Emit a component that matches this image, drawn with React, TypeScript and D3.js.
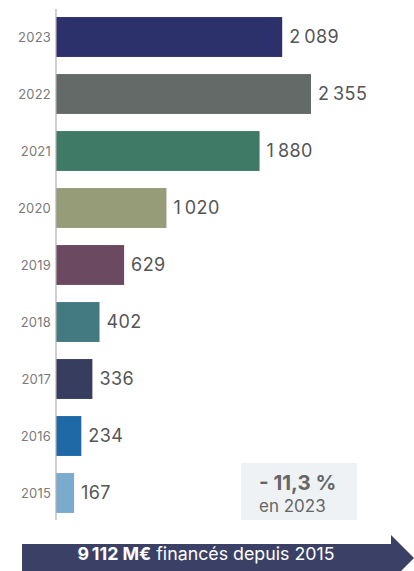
import React from "react";
import * as d3 from "d3";

const years = ["2023", "2022", "2021", "2020", "2019", "2018", "2017", "2016", "2015"];
const values = [2089, 2355, 1880, 1020, 629, 402, 336, 234, 167];
const valueLabels = ["2\u2009089", "2\u2009355", "1\u2009880", "1\u2009020", "629", "402", "336", "234", "167"];
const colors = ["#2c306b", "#646a67", "#3f7a67", "#959c77", "#6b4a61", "#437a81", "#373d5f", "#1f69a7", "#7aaacd"];
const changeLabel = "- 11,3 %";
const changeSub = "en 2023";
const totalBold = "9\u2009112 M€";
const totalRest = " financés depuis 2015";

export default function App() {
  const W = 414, H = 571;
  const x = d3.scaleLinear().domain([0, 2355]).range([56, 311]);
  const y = d3.scaleBand<string>().domain(years).range([8.5, 521.5]).paddingInner(0.3).paddingOuter(0.15);
  const font = "Inter, 'Open Sans', sans-serif";

  const arrowPath = d3.path();
  arrowPath.moveTo(22, 544);
  arrowPath.lineTo(391, 544);
  arrowPath.lineTo(391, 535);
  arrowPath.lineTo(414, 558);
  arrowPath.lineTo(391, 581);
  arrowPath.lineTo(391, 572);
  arrowPath.lineTo(22, 572);
  arrowPath.closePath();

  return (
    <svg width={W} height={H} style={{ position: "absolute", left: 0, top: 0, background: "#fff" }} fontFamily={font}>
      <rect x={0} y={0} width={W} height={H} fill="#fff" />
      {years.map((yr, i) => {
        const by = y(yr)!;
        const bh = y.bandwidth();
        return (
          <g key={yr}>
            <rect x={x(0)} y={by} width={x(values[i]) - x(0)} height={bh} fill={colors[i]} />
            <text x={51} y={by + bh / 2 + 1} textAnchor="end" dominantBaseline="middle" fontSize={13} fill="#7a7a7a" letterSpacing={0.2}>{yr}</text>
            <text x={x(values[i]) + 7} y={by + bh / 2 + 1.5} dominantBaseline="middle" fontSize={18} fill="#555" letterSpacing={0.4}>{valueLabels[i]}</text>
          </g>
        );
      })}
      <line x1={56} x2={56} y1={9} y2={520} stroke="#b0b0b0" strokeWidth={1.2} />
      <rect x={241} y={463} width={116} height={57} fill="#eef2f5" />
      <text x={259} y={490} fontSize={20.5} fontWeight={700} fill="#666">{changeLabel}</text>
      <text x={259} y={512} fontSize={17} fill="#666">{changeSub}</text>
      <path d={arrowPath.toString()} fill="#3b4166" />
      <text x={206} y={560} textAnchor="middle" fontSize={17.8} fill="#fff">
        <tspan fontWeight={700}>{totalBold}</tspan>
        <tspan>{totalRest}</tspan>
      </text>
    </svg>
  );
}
